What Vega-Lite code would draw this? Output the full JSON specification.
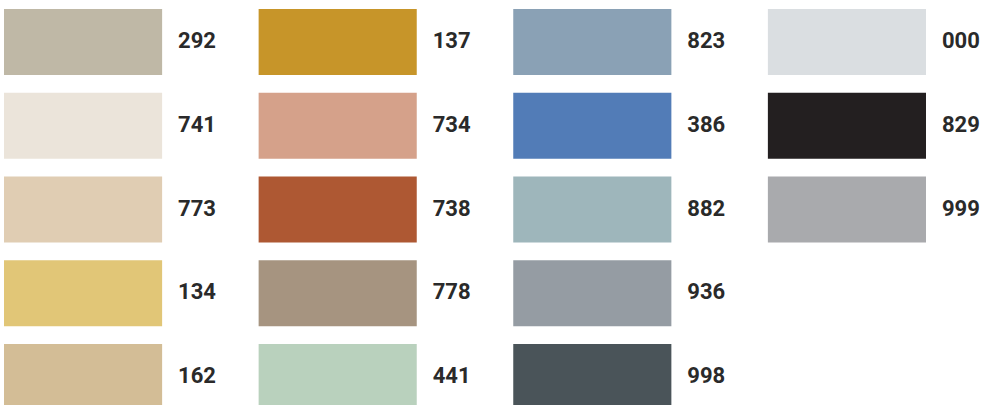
{
  "$schema": "https://vega.github.io/schema/vega-lite/v6.json",
  "autosize": {"type": "fit", "contains": "padding"},
  "width": 983,
  "height": 405,
  "padding": 0,
  "background": "white",
  "config": {"view": {"stroke": null}},
  "data": {
    "values": [
      {"code": "292", "col": 0, "row": 0},
      {"code": "741", "col": 0, "row": 1},
      {"code": "773", "col": 0, "row": 2},
      {"code": "134", "col": 0, "row": 3},
      {"code": "162", "col": 0, "row": 4},
      {"code": "137", "col": 1, "row": 0},
      {"code": "734", "col": 1, "row": 1},
      {"code": "738", "col": 1, "row": 2},
      {"code": "778", "col": 1, "row": 3},
      {"code": "441", "col": 1, "row": 4},
      {"code": "823", "col": 2, "row": 0},
      {"code": "386", "col": 2, "row": 1},
      {"code": "882", "col": 2, "row": 2},
      {"code": "936", "col": 2, "row": 3},
      {"code": "998", "col": 2, "row": 4},
      {"code": "000", "col": 3, "row": 0},
      {"code": "829", "col": 3, "row": 1},
      {"code": "999", "col": 3, "row": 2}
    ]
  },
  "encoding": {
    "x": {"field": "col", "type": "ordinal", "axis": null,
          "scale": {"range": [4, 926], "paddingInner": 0.379, "paddingOuter": 0}},
    "y": {"field": "row", "type": "ordinal", "axis": null,
          "scale": {"range": [9, 410], "paddingInner": 0.2124, "paddingOuter": 0}}
  },
  "layer": [
    {
      "mark": {"type": "rect"},
      "encoding": {
        "color": {
          "field": "code", "type": "nominal", "legend": null,
          "scale": {
            "domain": ["292","741","773","134","162","137","734","738","778","441","823","386","882","936","998","000","829","999"],
            "range": ["#bfb8a6","#ebe4da","#e0cdb3","#e1c677","#d3bd96","#c79529","#d5a18a","#ae5833","#a69480","#b9d1bd","#8aa1b5","#527cb7","#9eb6bb","#959ca3","#4a5459","#dadee1","#231f20","#a9aaad"]
          }
        }
      }
    },
    {
      "mark": {"type": "text", "align": "left", "baseline": "middle", "dx": 16, "dy": -1,
               "font": "Roboto", "fontWeight": "bold", "fontSize": 22, "color": "#2a2a2a"},
      "encoding": {
        "x": {"field": "col", "type": "ordinal", "bandPosition": 1},
        "text": {"field": "code", "type": "nominal"}
      }
    }
  ]
}
